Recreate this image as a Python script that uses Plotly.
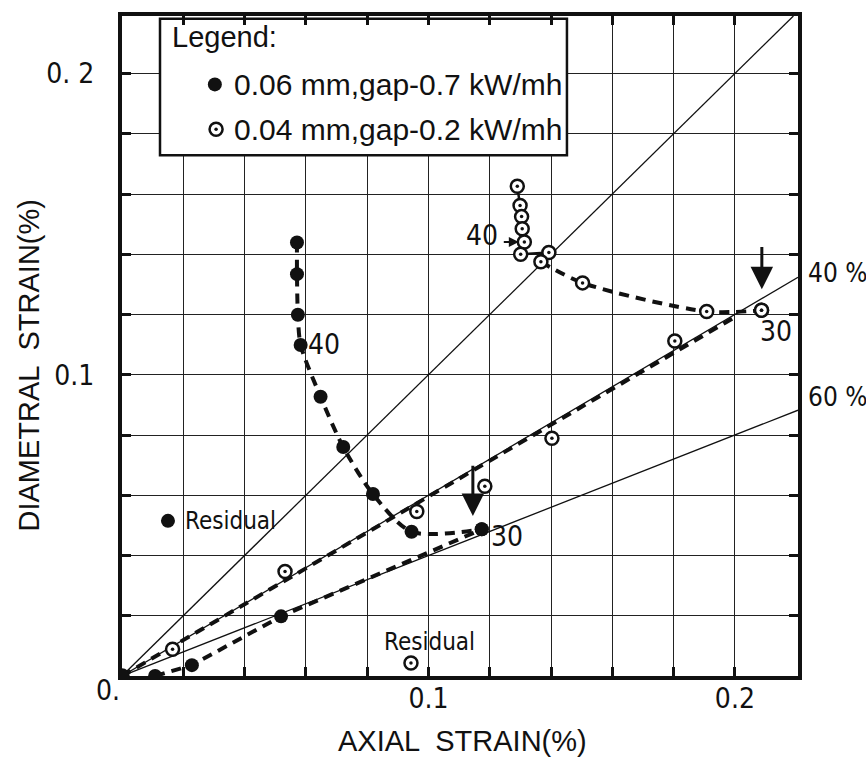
import plotly.graph_objects as go

# Axis extents (strain in %)
x_max = 0.2206
y_max = 0.2191
grid_vals = [0.0, 0.02, 0.04, 0.06, 0.08, 0.10, 0.12, 0.14, 0.16, 0.18, 0.20]
x_tick_text = ["", "", "", "", "", "0.1", "", "", "", "", "0.2"]
y_tick_text = ["", "", "", "", "", "0.1", "", "", "", "", "0. 2"]

# 0.06 mm gap - 0.7 kW/mh : power ramp branch and hold/decrease branch
g06_load_x = [0.0, 0.0108, 0.0228, 0.0519, 0.1174]
g06_load_y = [0.0, 0.0, 0.0036, 0.0198, 0.0487]
g06_unload_x = [0.0571, 0.0571, 0.0574, 0.0583, 0.0648, 0.0722, 0.0819, 0.0945, 0.1174]
g06_unload_y = [0.1439, 0.1334, 0.1199, 0.1099, 0.0927, 0.0760, 0.0604, 0.0479, 0.0487]
g06_resid_x = [0.0150]
g06_resid_y = [0.0515]

# 0.04 mm gap - 0.2 kW/mh
g04_load_x = [0.0, 0.0165, 0.0532, 0.0962, 0.1184, 0.1403, 0.1804, 0.2087]
g04_load_y = [0.0, 0.0089, 0.0347, 0.0546, 0.0630, 0.0789, 0.1112, 0.1214]
g04_stack_x = [0.1290, 0.1299, 0.1304, 0.1306, 0.1313, 0.1301, 0.1393]
g04_stack_y = [0.1626, 0.1562, 0.1525, 0.1485, 0.1441, 0.1400, 0.1406]
g04_unload_x = [0.1367, 0.1503, 0.1908, 0.2087]
g04_unload_y = [0.1375, 0.1305, 0.1210, 0.1214]
g04_trend_x = [0.0, 0.2006]
g04_trend_y = [0.0, 0.1195]
g04_resid_x = [0.0943]
g04_resid_y = [0.0043]

# Diametral/axial ratio lines and their labels
ratio_slopes = [1.0, 0.6, 0.4]
ratio_labels = ["", "40 %", "60 %"]

NARROW = "Liberation Sans Narrow, DejaVu Sans Condensed, Liberation Sans, sans-serif"
REGULAR = "Liberation Sans, Arial, sans-serif"
INK = "#111111"

fig = go.Figure()

# ratio lines from the origin
for s in ratio_slopes:
    xe = min(x_max, y_max / s)
    fig.add_trace(go.Scatter(x=[0.0, xe], y=[0.0, s * xe], mode="lines",
                             line=dict(color=INK, width=1.3), hoverinfo="skip",
                             showlegend=False))

dash_line = dict(color=INK, width=4, dash="10px,7px")

# dashed paths
fig.add_trace(go.Scatter(x=g06_load_x[1:], y=g06_load_y[1:], mode="lines",
                         line=dash_line, showlegend=False, hoverinfo="skip"))
fig.add_trace(go.Scatter(x=g06_unload_x, y=g06_unload_y, mode="lines",
                         line=dict(dash_line, shape="spline", smoothing=0.8),
                         showlegend=False, hoverinfo="skip"))
fig.add_trace(go.Scatter(x=g04_trend_x, y=g04_trend_y, mode="lines",
                         line=dash_line, showlegend=False, hoverinfo="skip"))
fig.add_trace(go.Scatter(x=g04_unload_x, y=g04_unload_y, mode="lines",
                         line=dict(dash_line, shape="spline", smoothing=0.8),
                         showlegend=False, hoverinfo="skip"))
fig.add_trace(go.Scatter(x=g04_stack_x, y=g04_stack_y, mode="lines",
                         line=dict(color=INK, width=2.5),
                         showlegend=False, hoverinfo="skip"))

# open-circle markers (white face, ring, centre dot)
open_x = g04_load_x + g04_stack_x + g04_unload_x + g04_resid_x
open_y = g04_load_y + g04_stack_y + g04_unload_y + g04_resid_y
fig.add_trace(go.Scatter(x=open_x, y=open_y, mode="markers",
                         marker=dict(symbol="circle", size=13, color="white",
                                     line=dict(color=INK, width=2.5)),
                         name="0.04 mm,gap-0.2 kW/mh", showlegend=False))
fig.add_trace(go.Scatter(x=open_x, y=open_y, mode="markers",
                         marker=dict(symbol="circle", size=3.5, color=INK),
                         showlegend=False, hoverinfo="skip"))

# filled markers
fill_x = g06_load_x + g06_unload_x + g06_resid_x
fill_y = g06_load_y + g06_unload_y + g06_resid_y
fig.add_trace(go.Scatter(x=fill_x, y=fill_y, mode="markers",
                         marker=dict(symbol="circle", size=14, color=INK),
                         name="0.06 mm,gap-0.7 kW/mh", showlegend=False))

# legend box
leg_x0, leg_x1, leg_y0, leg_y1 = 0.0124, 0.1452, 0.1729, 0.2182
fig.add_shape(type="rect", xref="x", yref="y", x0=leg_x0, x1=leg_x1, y0=leg_y0, y1=leg_y1,
              line=dict(color=INK, width=2.5), fillcolor="white", layer="between")
leg_rows_y = [0.1964, 0.1815]
leg_texts = ["0.06 mm,gap-0.7 kW/mh", "0.04 mm,gap-0.2 kW/mh"]
fig.add_trace(go.Scatter(x=[0.0303], y=[leg_rows_y[0]], mode="markers",
                         marker=dict(symbol="circle", size=14, color=INK),
                         showlegend=False, hoverinfo="skip"))
fig.add_trace(go.Scatter(x=[0.0307], y=[leg_rows_y[1]], mode="markers",
                         marker=dict(symbol="circle", size=13, color="white",
                                     line=dict(color=INK, width=2.5)),
                         showlegend=False, hoverinfo="skip"))
fig.add_trace(go.Scatter(x=[0.0307], y=[leg_rows_y[1]], mode="markers",
                         marker=dict(symbol="circle", size=3.5, color=INK),
                         showlegend=False, hoverinfo="skip"))

ann = []
ann.append(dict(x=0.0157, y=0.2122, xref="x", yref="y", text="Legend:", showarrow=False,
                xanchor="left", yanchor="middle", font=dict(family=REGULAR, size=29, color=INK)))
for yy, tt in zip(leg_rows_y, leg_texts):
    ann.append(dict(x=0.0359, y=yy, xref="x", yref="y", text=tt, showarrow=False,
                    xanchor="left", yanchor="middle", font=dict(family=REGULAR, size=30, color=INK)))

# ratio line labels just outside the right frame (paper coordinates)
for s, lab in zip(ratio_slopes, ratio_labels):
    if lab:
        y_end = s * x_max + (0.0015 if s > 0.5 else 0.0045)
        ann.append(dict(x=1.012, y=y_end / y_max, xref="paper", yref="paper", text=lab,
                        showarrow=False, xanchor="left", yanchor="middle",
                        font=dict(family=NARROW, size=26, color=INK)))

# point labels
def label(x, y, text, anchor="left", size=28):
    ann.append(dict(x=x, y=y, xref="x", yref="y", text=text, showarrow=False,
                    xanchor=anchor, yanchor="middle", font=dict(family=NARROW, size=size, color=INK)))

label(g06_unload_x[3] + 0.0016, g06_unload_y[3], "40")
label(g06_load_x[-1] + 0.0022, g06_load_y[-1] - 0.0025, "30")
label(g04_load_x[-1] - 0.0012, g04_load_y[-1] - 0.0069, "30")
label(g04_stack_x[4] - 0.008, g04_stack_y[4] + 0.0021, "40", anchor="right")
label(g06_resid_x[0] + 0.0049, g06_resid_y[0], "Residual", size=24)
label(g04_resid_x[0] - 0.0095, g04_resid_y[0] + 0.0069, "Residual", size=24)

# arrows
def arrow(x_tip, y_tip, x_tail, y_tail, size, width):
    ann.append(dict(x=x_tip, y=y_tip, ax=x_tail, ay=y_tail, xref="x", yref="y",
                    axref="x", ayref="y", text="", showarrow=True, arrowhead=2,
                    arrowsize=size, arrowwidth=width, arrowcolor=INK, standoff=0))

arrow(0.1145, 0.0531, 0.1145, 0.0703, 1.5, 3)
arrow(0.2088, 0.1284, 0.2088, 0.1429, 1.5, 3)
arrow(g04_stack_x[4] - 0.0018, g04_stack_y[4], g04_stack_x[4] - 0.0072, g04_stack_y[4], 1.0, 2)

# origin label and axis titles
ann.append(dict(x=-0.021, y=-0.022, xref="paper", yref="paper", text="0.", showarrow=False,
                xanchor="center", yanchor="middle", font=dict(family=NARROW, size=28, color=INK)))
ann.append(dict(x=0.503, y=-0.099, xref="paper", yref="paper", text="AXIAL  STRAIN(%)",
                showarrow=False, xanchor="center", yanchor="middle",
                font=dict(family=REGULAR, size=29, color=INK)))
ann.append(dict(x=-0.138, y=0.47, xref="paper", yref="paper", text="DIAMETRAL  STRAIN(%)",
                showarrow=False, xanchor="center", yanchor="middle", textangle=-90,
                font=dict(family=REGULAR, size=29, color=INK)))

axis_common = dict(showline=True, linewidth=4, linecolor=INK, mirror="ticks",
                   ticks="inside", ticklen=9, tickwidth=3, tickcolor=INK,
                   showgrid=True, gridcolor="#222222", gridwidth=1, zeroline=False,
                   tickvals=grid_vals, tickfont=dict(family=NARROW, size=28, color=INK))

fig.update_layout(
    width=866, height=767,
    margin=dict(l=122, r=68, t=12, b=91),
    paper_bgcolor="white", plot_bgcolor="white",
    showlegend=False,
    xaxis=dict(axis_common, range=[0, x_max], ticktext=x_tick_text, ticklabelstandoff=-6),
    yaxis=dict(axis_common, range=[0, y_max], ticktext=y_tick_text, ticklabelstandoff=18),
    annotations=ann,
)

fig.write_html("out.html")
